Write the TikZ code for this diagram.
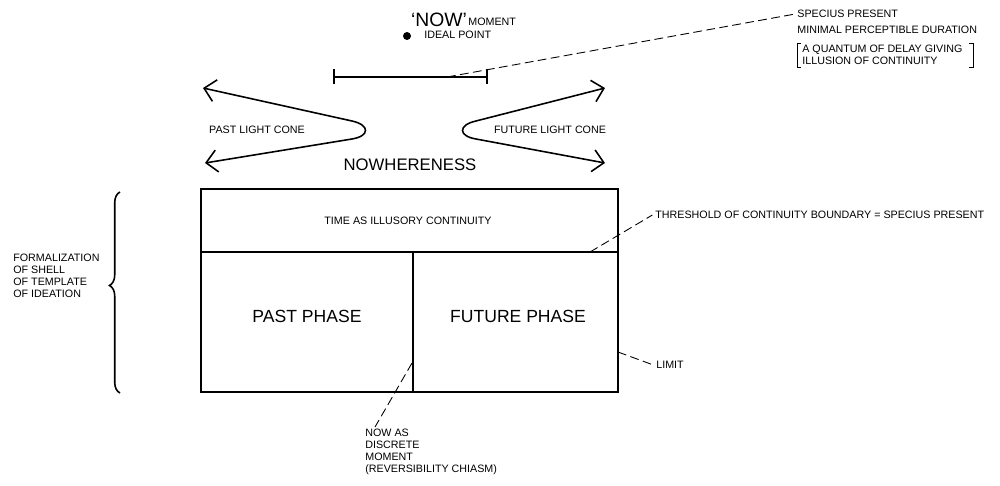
\documentclass[tikz,border=0pt]{standalone}
\usepackage{fontspec}
\setmainfont{Liberation Sans}
\usetikzlibrary{positioning,decorations.pathreplacing,arrows.meta}

\begin{document}
\begin{tikzpicture}[
x=0.02cm,
y=-0.02cm,
line/.style={
  line width=0.9pt
  },
leader/.style={
  line width=0.5pt,
  dash pattern=on 5pt off 2.5pt
  },
lbl/.style={
  font=\fontsize{6.1}{6.8}\selectfont,
  inner sep=0pt
  },
big/.style={
  font=\fontsize{10}{12}\selectfont,
  inner sep=0pt
  },
>={Straight Barb[length=2.2mm,width=4.4mm]}
]
\useasboundingbox (0,0) rectangle (1000,486);
% shell of the template
\coordinate (nw) at (201,189);
\coordinate (se) at (618,392);
\draw[line] (nw) rectangle (se);
\draw[line] (201,252) -- (618,252);
\draw[line] (413,252) -- (413,392);
\node[lbl] (time) at (408,221) {TIME AS ILLUSORY CONTINUITY};
\node[big] (past) at (307,316) {PAST PHASE};
\node[big] (future) at (518,316) {FUTURE PHASE};
% light cones
\draw[line,<->] (203,88) -- (352,121) .. controls (370,125) and (370,136) .. (352,139) -- (205,163);
\draw[line,<->] (605,88) -- (476,121) .. controls (458,125) and (458,136) .. (476,139) -- (605,163);
\node[lbl] (pastcone) at (257,130) {PAST LIGHT CONE};
\node[lbl] (futcone) at (550,130) {FUTURE LIGHT CONE};
\node[big, font=\fontsize{9.5}{11}\selectfont] (nowhere) at (410,165) {NOWHERENESS};
% now moment
\node[inner sep=0pt, font=\fontsize{11}{12}\selectfont] (now) at (439,20) {\textquoteleft NOW\textquoteright};
\node[lbl, anchor=west] (moment) at (468,22) {MOMENT};
\fill (407,36) circle (4);
\node[lbl, anchor=west] (ideal) at (424,35) {IDEAL POINT};
\coordinate (barL) at (333,77);
\coordinate (barR) at (488,77);
\coordinate (barP) at (447,77);
\draw[line, {Bar[width=3mm]}-{Bar[width=3mm]}] (barL) -- (barR);
% specious present
\node[lbl, anchor=west] (specius) at (797,14) {SPECIUS PRESENT};
\node[lbl, anchor=west] (minimal) at (797,30) {MINIMAL PERCEPTIBLE DURATION};
\node[lbl, anchor=west, align=left] (quantum) at (802,55) {A QUANTUM OF DELAY GIVING\\ILLUSION OF CONTINUITY};
\draw[line width=0.5pt] (801,43) -| (797,67) -- (801,67);
\draw[line width=0.5pt] (969,43) -| (973,67) -- (969,67);
\draw[leader] (barP) -- ([xshift=-1pt]specius.west);
% leaders to the shell
\coordinate (thr) at (590,252);
\node[lbl, anchor=west] (threshold) at (655,215) {THRESHOLD OF CONTINUITY BOUNDARY = SPECIUS PRESENT};
\draw[leader] (thr) -- ([xshift=-1.5pt]threshold.west);
\coordinate (lim) at (618,352);
\node[lbl, anchor=west] (limit) at (656,365) {LIMIT};
\draw[leader] (lim) -- ([xshift=-1.5pt]limit.west);
\coordinate (nowpt) at (412,363);
\coordinate (nowend) at (375,427);
\node[lbl, anchor=north west, align=left] (discrete) at (365,429) {NOW AS\\DISCRETE\\MOMENT\\(REVERSIBILITY CHIASM)};
\draw[leader] (nowpt) -- (nowend);
% formalization brace
\draw[line, decorate, decoration={brace, amplitude=6pt, aspect=0.535}] (120,393) -- (120,192);
\node[lbl, anchor=west, align=left] (formal) at (13,276) {FORMALIZATION\\OF SHELL\\OF TEMPLATE\\OF IDEATION};
\end{tikzpicture}
\end{document}
